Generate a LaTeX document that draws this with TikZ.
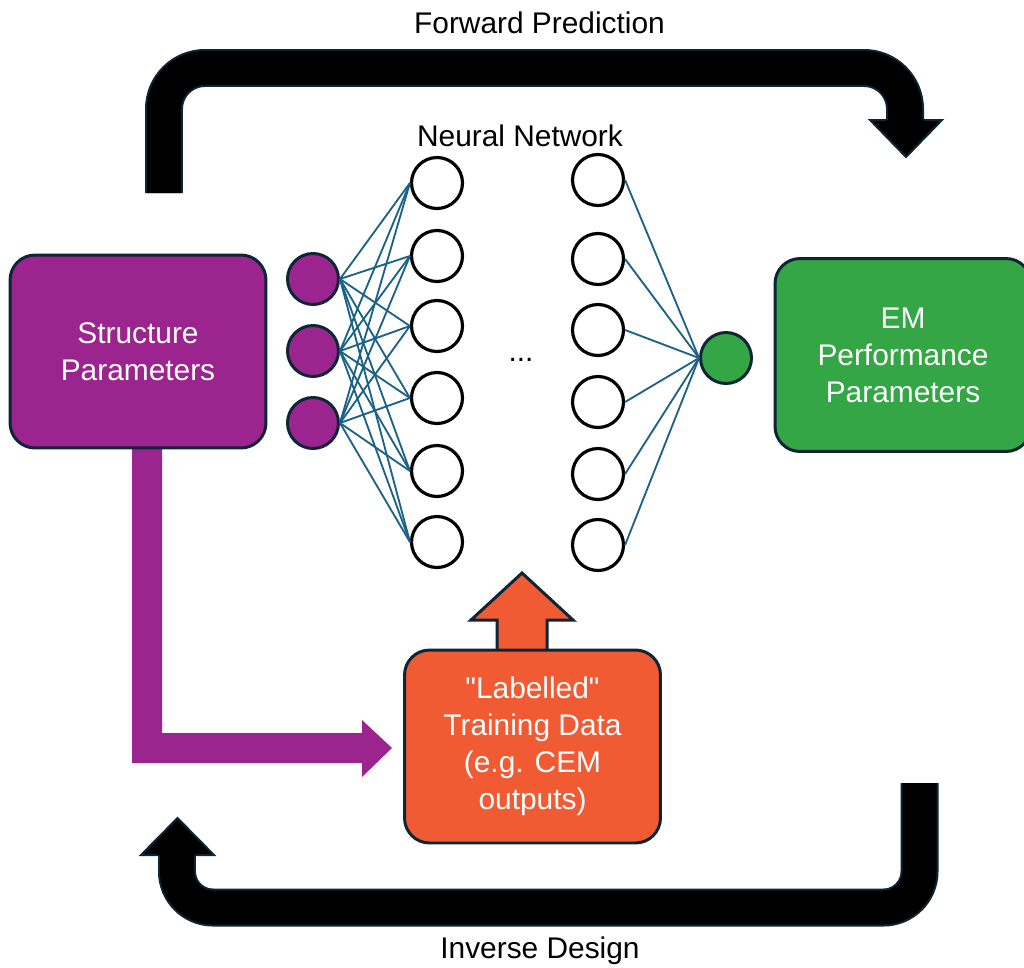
\documentclass[tikz,border=0pt]{standalone}
\usepackage{fontspec}
\setmainfont{Liberation Sans}
\definecolor{purp}{RGB}{155,36,142}
\definecolor{grn}{RGB}{52,166,70}
\definecolor{orng}{RGB}{241,91,52}
\definecolor{edge}{RGB}{13,37,53}
\definecolor{wire}{RGB}{28,98,134}
\begin{document}
\begin{tikzpicture}[x=0.02cm,y=-0.02cm]
  \tikzstyle{every node}=[font=\fontsize{17}{21}\selectfont]
  \tikzstyle{block}=[draw=edge,line width=1.7pt,rounded corners=0.5cm,minimum width=5.12cm,minimum height=3.86cm,text=white,align=center]
  \tikzstyle{neuron}=[circle,draw=black,line width=1.8pt,minimum size=1.02cm,inner sep=0pt]
  \tikzstyle{unit}=[circle,draw=edge,line width=1.7pt,minimum size=1.02cm,inner sep=0pt]
  \tikzstyle{conn}=[draw=wire,line width=1.05pt]
  \tikzstyle{loop}=[draw=edge,line width=0.04cm,double=black,double distance=0.68cm]
  \tikzstyle{head}=[draw=edge,line width=0.04cm,fill=black]

  \clip (0,0) rectangle (1024,967);

  % forward / inverse loops
  \draw[loop,rounded corners=0.82cm] (164,193) -- (164,68) -- (905,68) -- (905,120);
  \draw[head] (924,120) -- (942,120) -- (906,157) -- (870,120) -- (886,120);
  \draw[loop,rounded corners=0.72cm] (919.5,783) -- (919.5,907.5) -- (177,907.5) -- (177,855);
  \draw[head] (196,855) -- (214,855) -- (177.5,818) -- (141,855) -- (158,855);

  % data flow
  \fill[purp] (132,440) -- (132,763) -- (362,763) -- (362,777) -- (392,748)
    -- (362,720) -- (362,733) -- (162,733) -- (162,440) -- cycle;
  \draw[draw=edge,line width=1.7pt,fill=orng] (497,660) -- (497,620) -- (471,620)
    -- (522,573) -- (573,620) -- (547,620) -- (547,660);

  \node[block,fill=purp] (struct) at (138,351.5) {Structure\\Parameters};
  \node[block,fill=grn] (em) at (903,355) {EM\\Performance\\Parameters};
  \node[block,fill=orng] (train) at (532.5,746.5) {\textquotedbl Labelled\textquotedbl\\Training Data\\(e.g. CEM\\outputs)};

  % network
  \foreach \n/\y in {1/279,2/351,3/423}
    \node[unit,fill=purp] (in\n) at (313,\y) {};
  \foreach \n/\y in {1/183,2/256,3/326,4/398,5/471,6/542}
    \node[neuron] (ha\n) at (437,\y) {};
  \foreach \n/\y in {1/180,2/259,3/330,4/402,5/474,6/545}
    \node[neuron] (hb\n) at (598,\y) {};
  \node[unit,fill=grn] (out) at (726,358) {};
  \foreach \i in {1,2,3}
    \foreach \j in {1,...,6}
      \draw[conn] (in\i.east) -- (ha\j.west);
  \foreach \j in {1,...,6}
    \draw[conn] (hb\j.east) -- (out.west);
  \node[anchor=base] (dots) at (521,361) {...};

  \node[anchor=base] (nn) at (520,146) {Neural Network};
  \node[anchor=base] (fwd) at (539.5,33) {Forward Prediction};
  \node[anchor=base] (inv) at (540,958) {Inverse Design};
\end{tikzpicture}
\end{document}
